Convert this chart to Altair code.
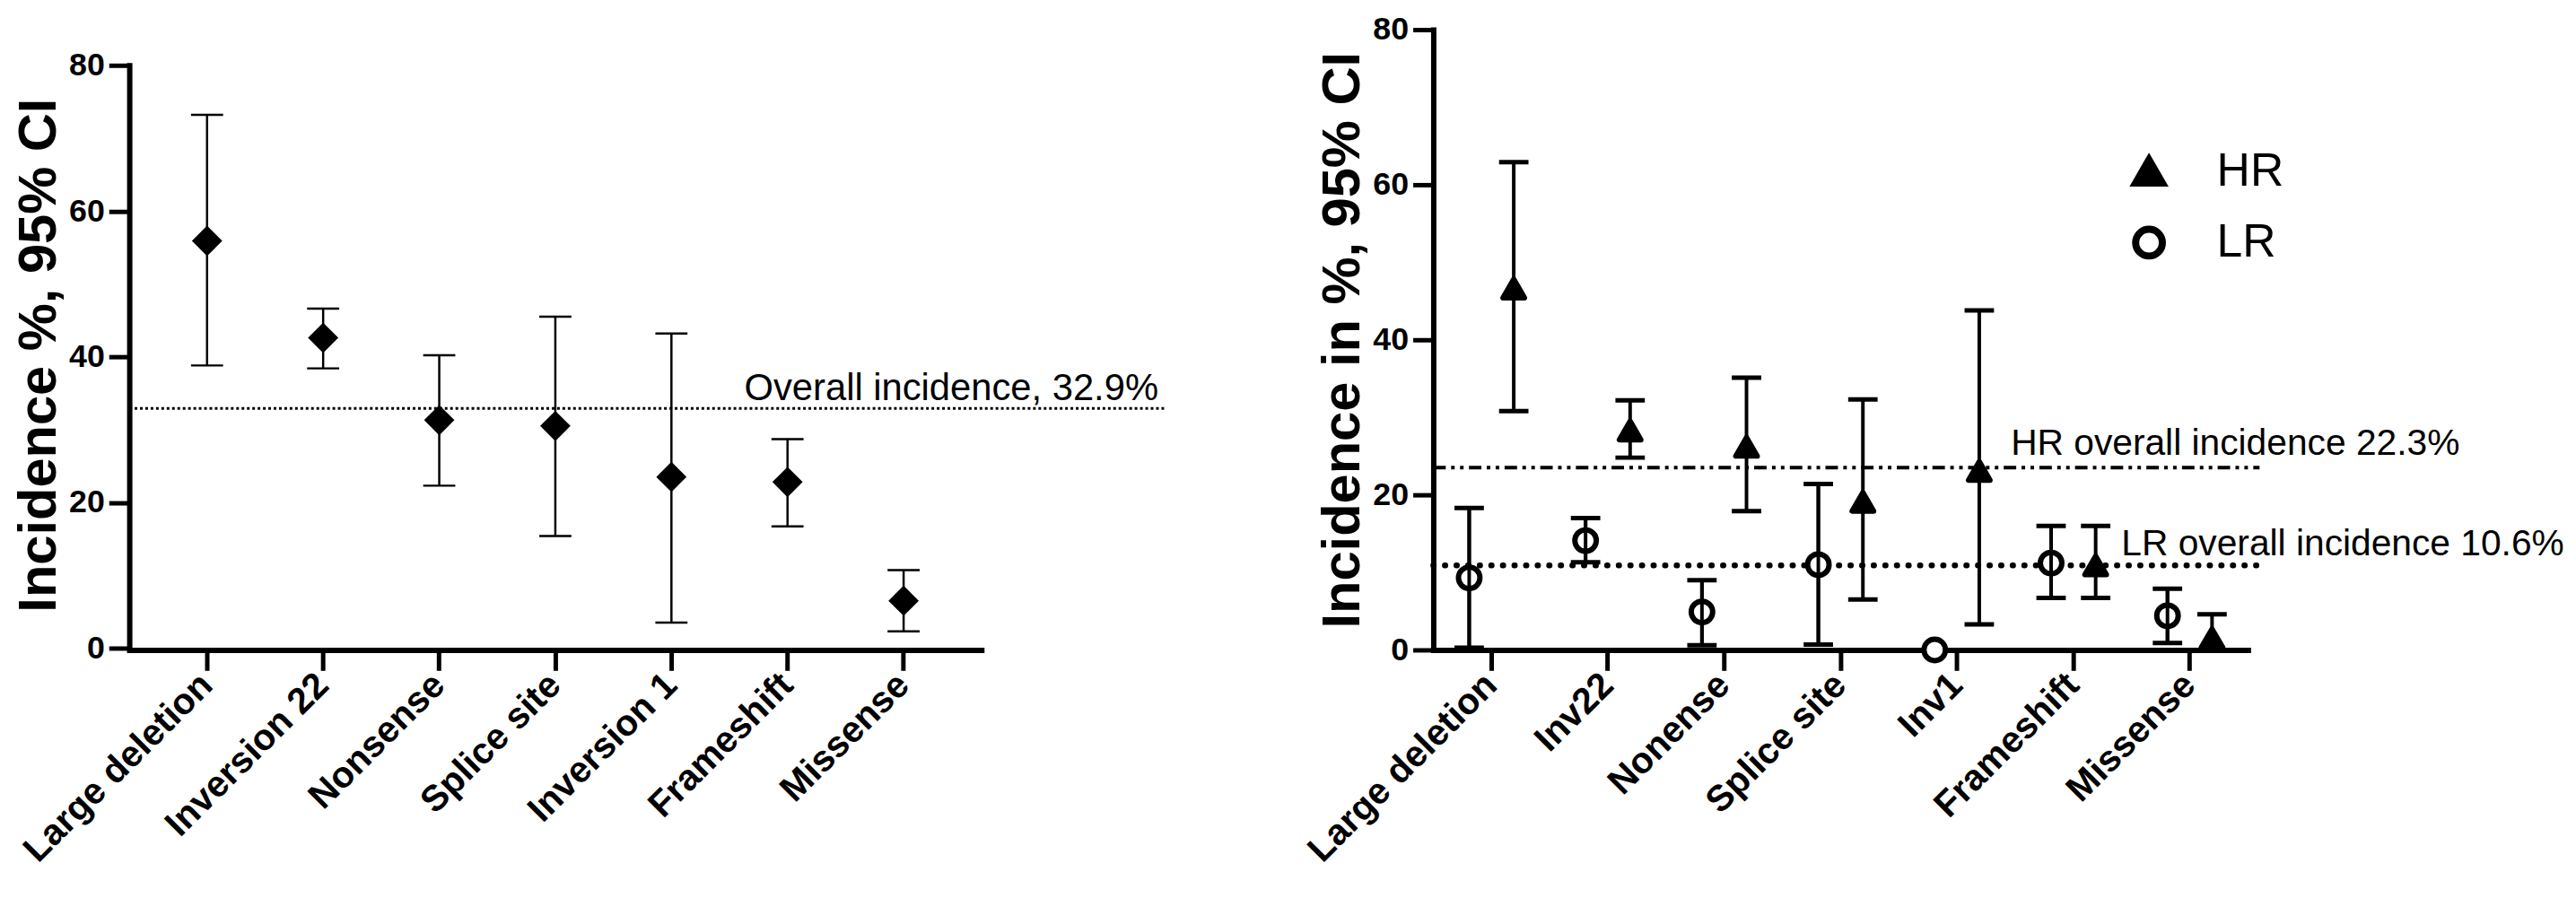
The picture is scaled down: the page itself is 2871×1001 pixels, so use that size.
import altair as alt
import pandas as pd

FONT = "Liberation Sans"

# ---------------- data: left panel ----------------
cats_left = ["Large deletion", "Inversion 22", "Nonsense", "Splice site",
             "Inversion 1", "Frameshift", "Missense"]
inc_left = [55.9, 42.6, 31.3, 30.5, 23.5, 22.8, 6.5]
lo_left = [38.8, 38.4, 22.3, 15.4, 3.5, 16.7, 2.3]
hi_left = [73.2, 46.6, 40.2, 45.5, 43.2, 28.7, 10.7]
overall_left = [32.9]
overall_left_label = ["Overall incidence, 32.9%"]

# ---------------- data: right panel ----------------
cats_right = ["Large deletion", "Inv22", "Nonense", "Splice site",
              "Inv1", "Frameshift", "Missense"]
groups = ["HR", "LR"]
inc_hr = [46.6, 28.3, 26.2, 19.1, 23.1, 10.9, 1.5]
lo_hr = [30.8, 24.8, 17.9, 6.5, 3.3, 6.7, 0.0]
hi_hr = [62.9, 32.2, 35.1, 32.3, 43.8, 16.0, 4.6]
inc_lr = [9.3, 14.1, 4.9, 11.0, 0.0, 11.2, 4.4]
lo_lr = [0.3, 11.3, 0.6, 0.7, 0.0, 6.7, 0.9]
hi_lr = [18.3, 17.0, 9.0, 21.4, 0.0, 16.0, 7.9]
overall_right = [23.5, 10.9]
overall_right_labels = ["HR overall incidence 22.3%", "LR overall incidence 10.6%"]

y_ticks = [0, 20, 40, 60, 80]

# ---------------- tables ----------------
df_l = pd.DataFrame({"cat": cats_left, "inc": inc_left, "lo": lo_left, "hi": hi_left})
df_lo = pd.DataFrame({"v": overall_left, "label": overall_left_label})

rows = []
for i, c in enumerate(cats_right):
    rows.append({"cat": c, "group": "HR", "inc": inc_hr[i], "lo": lo_hr[i], "hi": hi_hr[i]})
    rows.append({"cat": c, "group": "LR", "inc": inc_lr[i], "lo": lo_lr[i], "hi": hi_lr[i]})
df_r = pd.DataFrame(rows)
df_ro = pd.DataFrame({"group": groups, "v": overall_right, "label": overall_right_labels})

# ---------------- shared axis styles ----------------
def x_axis():
    return alt.Axis(labelAngle=-45, labelFontSize=41, labelLimit=1000, labelPadding=10,
                    labelAlign="right", labelBaseline="middle", title=None,
                    labelOverlap=False, labelFlush=False)

def y_axis(title, **kw):
    return alt.Axis(values=y_ticks, labelFontSize=36, titleFontSize=60, titlePadding=2,
                    labelPadding=5, title=title, **kw)

# ---------------- left panel ----------------
xl = alt.X("cat:N", sort=cats_left, scale=alt.Scale(paddingInner=0, paddingOuter=0.17),
           axis=x_axis())
yscale_l = alt.Scale(domain=[0, 80], range=[694, 40])

def yl(field):
    return alt.Y(field, type="quantitative", scale=yscale_l,
                 axis=y_axis("Incidence %, 95% CI", titleY=365))

base_l = alt.Chart(df_l)
rule_l = base_l.mark_rule(color="black", strokeWidth=2.5).encode(x=xl, y=yl("lo"), y2="hi:Q")
cap_lo_l = base_l.mark_tick(color="black", size=36, thickness=2.5, opacity=1).encode(x=xl, y=yl("lo"))
cap_hi_l = base_l.mark_tick(color="black", size=36, thickness=2.5, opacity=1).encode(x=xl, y=yl("hi"))
pts_l = base_l.mark_point(shape="diamond", filled=True, color="black", size=1156,
                          opacity=1).encode(x=xl, y=yl("inc"))
line_l = alt.Chart(df_lo).mark_rule(color="black", strokeWidth=3, strokeDash=[3, 3]).encode(
    y=yl("v"), x=alt.value(0), x2=alt.value(1161))
text_l = alt.Chart(df_lo).mark_text(align="left", baseline="alphabetic", dy=-9, fontSize=42,
                                    font=FONT, color="black").encode(
    y=yl("v"), x=alt.value(690), text="label:N")

left = alt.layer(rule_l, cap_lo_l, cap_hi_l, pts_l, line_l, text_l).properties(
    width=956, height=696)

# ---------------- right panel ----------------
xr = alt.X("cat:N", sort=cats_right, scale=alt.Scale(paddingInner=0, paddingOuter=0),
           axis=x_axis())
xo = alt.XOffset("group:N", scale=alt.Scale(domain=["LR", "HR"], paddingInner=0,
                                             paddingOuter=0.306))
yscale_r = alt.Scale(domain=[0, 80])

def yr(field):
    return alt.Y(field, type="quantitative", scale=yscale_r,
                 axis=y_axis("Incidence in %, 95% CI"))

leg = alt.Legend(title=None, orient="none", legendX=2240, legendY=133, labelFontSize=52,
                 labelFont=FONT, labelColor="black", symbolSize=900, symbolStrokeWidth=8,
                 symbolStrokeColor="black", labelOffset=50, rowPadding=20, padding=0)

base_r = alt.Chart(df_r)
rule_r = base_r.mark_rule(color="black", strokeWidth=4).encode(x=xr, xOffset=xo, y=yr("lo"), y2="hi:Q")
cap_lo_r = base_r.mark_tick(color="black", size=33, thickness=5, opacity=1).encode(
    x=xr, xOffset=xo, y=yr("lo"))
cap_hi_r = base_r.mark_tick(color="black", size=33, thickness=5, opacity=1).encode(
    x=xr, xOffset=xo, y=yr("hi"))
pts_r = base_r.mark_point(filled=False, strokeWidth=6, strokeJoin="round",
                          opacity=1, size=580).encode(
    x=xr, xOffset=xo, y=yr("inc"),
    shape=alt.Shape("group:N", scale=alt.Scale(domain=["HR", "LR"],
                                               range=["triangle-up", "circle"]), legend=leg),
    fill=alt.Fill("group:N", scale=alt.Scale(domain=["HR", "LR"],
                                             range=["black", "white"]), legend=leg),
    stroke=alt.Stroke("group:N", scale=alt.Scale(domain=["HR", "LR"],
                                                 range=["black", "black"]), legend=leg),
)
hr_line = alt.Chart(df_ro).transform_filter(alt.datum.group == "HR").mark_rule(
    color="black", strokeWidth=4, strokeDash=[14, 6, 4, 6, 4, 6]).encode(
    y=yr("v"), x=alt.value(0), x2=alt.value(927))
lr_line = alt.Chart(df_ro).transform_filter(alt.datum.group == "LR").mark_rule(
    color="black", strokeWidth=6.5, strokeDash=[0.5, 12.5], strokeCap="round").encode(
    y=yr("v"), x=alt.value(0), x2=alt.value(927))
hr_text = alt.Chart(df_ro).transform_filter(alt.datum.group == "HR").mark_text(
    align="left", baseline="alphabetic", dy=-14, fontSize=41, font=FONT, color="black").encode(
    y=yr("v"), x=alt.value(648), text="label:N")
lr_text = alt.Chart(df_ro).transform_filter(alt.datum.group == "LR").mark_text(
    align="left", baseline="alphabetic", dy=-11, fontSize=41, font=FONT, color="black").encode(
    y=yr("v"), x=alt.value(772), text="label:N")

# the CI line shows through the hollow LR circles (as in the original)
lr_rule_over = base_r.transform_filter(alt.datum.group == "LR").mark_rule(
    color="black", strokeWidth=4).encode(x=xr, xOffset=xo, y=yr("lo"), y2="hi:Q")

right = alt.layer(rule_r, cap_lo_r, cap_hi_r, hr_line, lr_line, pts_r, lr_rule_over,
                  hr_text, lr_text).properties(width=914, height=696)

chart = alt.hconcat(left, right, spacing=151).properties(
    padding={"left": 5, "top": 4, "right": 5, "bottom": 5}
).configure_view(stroke=None).configure_axis(
    domainColor="black", domainWidth=6, domainCap="square", tickColor="black", tickWidth=5,
    tickSize=23, labelColor="black", labelFont=FONT, labelFontWeight="bold",
    titleFont=FONT, titleFontWeight="bold", titleColor="black", grid=False
).configure_text(font=FONT)

chart.save("out.html", embed_options={"renderer": "svg", "actions": False})
